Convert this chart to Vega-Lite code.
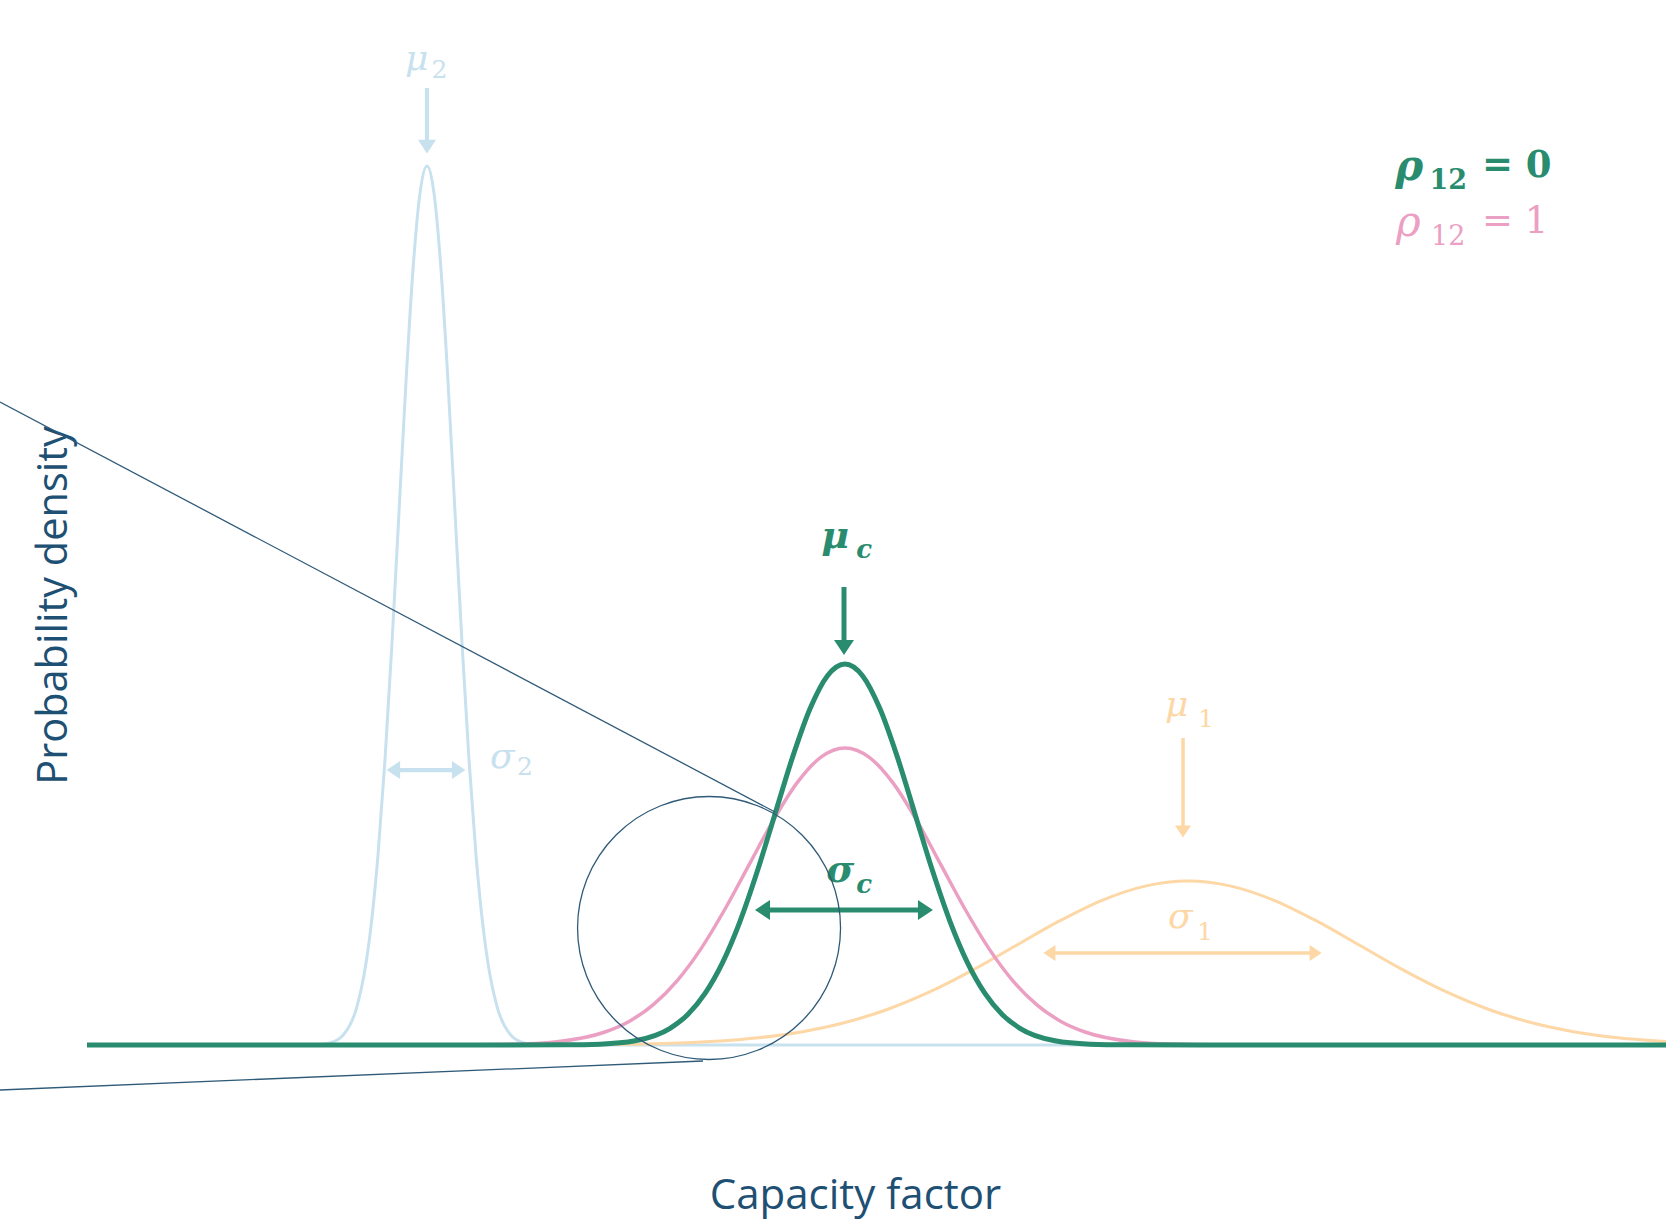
{
  "$schema": "https://vega.github.io/schema/vega-lite/v6.json",
  "width": 1666,
  "height": 1222,
  "autosize": {"type": "none"},
  "padding": 0,
  "background": "white",
  "config": {"view": {"stroke": null}},
  "datasets": {
    "curves": [
      {"series": "blue", "x": 18.0, "y": 0},
      {"series": "blue", "x": 18.91, "y": 0.03},
      {"series": "blue", "x": 19.75, "y": 0.19},
      {"series": "blue", "x": 20.59, "y": 0.98},
      {"series": "blue", "x": 21.43, "y": 3.86},
      {"series": "blue", "x": 21.85, "y": 7.0},
      {"series": "blue", "x": 22.27, "y": 11.89},
      {"series": "blue", "x": 22.69, "y": 19.01},
      {"series": "blue", "x": 23.11, "y": 28.54},
      {"series": "blue", "x": 23.53, "y": 40.24},
      {"series": "blue", "x": 23.95, "y": 53.31},
      {"series": "blue", "x": 24.37, "y": 66.35},
      {"series": "blue", "x": 24.79, "y": 77.57},
      {"series": "blue", "x": 25.21, "y": 85.19},
      {"series": "blue", "x": 25.63, "y": 87.9},
      {"series": "blue", "x": 26.05, "y": 85.19},
      {"series": "blue", "x": 26.47, "y": 77.57},
      {"series": "blue", "x": 26.89, "y": 66.35},
      {"series": "blue", "x": 27.31, "y": 53.31},
      {"series": "blue", "x": 27.73, "y": 40.24},
      {"series": "blue", "x": 28.15, "y": 28.54},
      {"series": "blue", "x": 28.57, "y": 19.01},
      {"series": "blue", "x": 28.99, "y": 11.89},
      {"series": "blue", "x": 29.41, "y": 7.0},
      {"series": "blue", "x": 29.83, "y": 3.86},
      {"series": "blue", "x": 30.67, "y": 0.98},
      {"series": "blue", "x": 31.51, "y": 0.19},
      {"series": "blue", "x": 32.35, "y": 0.03},
      {"series": "blue", "x": 33.5, "y": 0},
      {"series": "blue", "x": 100, "y": 0},

      {"series": "orange", "x": 27.0, "y": 0},
      {"series": "orange", "x": 30.03, "y": 0.0055},
      {"series": "orange", "x": 35.19, "y": 0.036},
      {"series": "orange", "x": 40.35, "y": 0.18},
      {"series": "orange", "x": 45.51, "y": 0.72},
      {"series": "orange", "x": 48.09, "y": 1.31},
      {"series": "orange", "x": 50.67, "y": 2.22},
      {"series": "orange", "x": 53.25, "y": 3.55},
      {"series": "orange", "x": 55.83, "y": 5.33},
      {"series": "orange", "x": 58.41, "y": 7.51},
      {"series": "orange", "x": 60.99, "y": 9.95},
      {"series": "orange", "x": 63.57, "y": 12.38},
      {"series": "orange", "x": 66.15, "y": 14.47},
      {"series": "orange", "x": 68.73, "y": 15.89},
      {"series": "orange", "x": 71.31, "y": 16.4},
      {"series": "orange", "x": 73.89, "y": 15.89},
      {"series": "orange", "x": 76.47, "y": 14.47},
      {"series": "orange", "x": 79.05, "y": 12.38},
      {"series": "orange", "x": 81.63, "y": 9.95},
      {"series": "orange", "x": 84.21, "y": 7.51},
      {"series": "orange", "x": 86.79, "y": 5.33},
      {"series": "orange", "x": 89.37, "y": 3.55},
      {"series": "orange", "x": 91.95, "y": 2.22},
      {"series": "orange", "x": 94.53, "y": 1.31},
      {"series": "orange", "x": 97.11, "y": 0.72},
      {"series": "orange", "x": 100, "y": 0.34},

      {"series": "pink", "x": 24.0, "y": 0},
      {"series": "pink", "x": 27.67, "y": 0.01},
      {"series": "pink", "x": 30.55, "y": 0.065},
      {"series": "pink", "x": 33.43, "y": 0.33},
      {"series": "pink", "x": 36.31, "y": 1.3},
      {"series": "pink", "x": 37.76, "y": 2.36},
      {"series": "pink", "x": 39.2, "y": 4.02},
      {"series": "pink", "x": 40.64, "y": 6.42},
      {"series": "pink", "x": 42.08, "y": 9.64},
      {"series": "pink", "x": 43.52, "y": 13.6},
      {"series": "pink", "x": 44.96, "y": 18.01},
      {"series": "pink", "x": 46.4, "y": 22.42},
      {"series": "pink", "x": 47.84, "y": 26.21},
      {"series": "pink", "x": 49.28, "y": 28.79},
      {"series": "pink", "x": 50.72, "y": 29.7},
      {"series": "pink", "x": 52.16, "y": 28.79},
      {"series": "pink", "x": 53.6, "y": 26.21},
      {"series": "pink", "x": 55.04, "y": 22.42},
      {"series": "pink", "x": 56.48, "y": 18.01},
      {"series": "pink", "x": 57.92, "y": 13.6},
      {"series": "pink", "x": 59.36, "y": 9.64},
      {"series": "pink", "x": 60.8, "y": 6.42},
      {"series": "pink", "x": 62.24, "y": 4.02},
      {"series": "pink", "x": 63.68, "y": 2.36},
      {"series": "pink", "x": 65.13, "y": 1.3},
      {"series": "pink", "x": 68.01, "y": 0.33},
      {"series": "pink", "x": 70.89, "y": 0.065},
      {"series": "pink", "x": 73.77, "y": 0.01},
      {"series": "pink", "x": 77.0, "y": 0},

      {"series": "green", "x": 5.22, "y": 0},
      {"series": "green", "x": 30.0, "y": 0},
      {"series": "green", "x": 33.92, "y": 0.013},
      {"series": "green", "x": 36.02, "y": 0.083},
      {"series": "green", "x": 38.12, "y": 0.42},
      {"series": "green", "x": 40.22, "y": 1.67},
      {"series": "green", "x": 41.27, "y": 3.03},
      {"series": "green", "x": 42.32, "y": 5.16},
      {"series": "green", "x": 43.37, "y": 8.24},
      {"series": "green", "x": 44.42, "y": 12.37},
      {"series": "green", "x": 45.47, "y": 17.44},
      {"series": "green", "x": 46.52, "y": 23.11},
      {"series": "green", "x": 47.57, "y": 28.76},
      {"series": "green", "x": 48.62, "y": 33.62},
      {"series": "green", "x": 49.67, "y": 36.93},
      {"series": "green", "x": 50.72, "y": 38.1},
      {"series": "green", "x": 51.77, "y": 36.93},
      {"series": "green", "x": 52.82, "y": 33.62},
      {"series": "green", "x": 53.87, "y": 28.76},
      {"series": "green", "x": 54.92, "y": 23.11},
      {"series": "green", "x": 55.97, "y": 17.44},
      {"series": "green", "x": 57.02, "y": 12.37},
      {"series": "green", "x": 58.07, "y": 8.24},
      {"series": "green", "x": 59.12, "y": 5.16},
      {"series": "green", "x": 60.17, "y": 3.03},
      {"series": "green", "x": 61.22, "y": 1.67},
      {"series": "green", "x": 63.32, "y": 0.42},
      {"series": "green", "x": 65.42, "y": 0.083},
      {"series": "green", "x": 67.52, "y": 0.013},
      {"series": "green", "x": 72.0, "y": 0},
      {"series": "green", "x": 100, "y": 0}
    ],
    "shafts": [
      {"series": "blue", "x": 25.63, "y": 95.7, "x2": 25.63, "y2": 90.3},
      {"series": "green", "x": 50.66, "y": 45.8, "x2": 50.66, "y2": 40.5},
      {"series": "orange", "x": 71.01, "y": 30.7, "x2": 71.01, "y2": 21.9},
      {"series": "blue", "x": 23.61, "y": 27.5, "x2": 27.53, "y2": 27.5},
      {"series": "green", "x": 45.77, "y": 13.5, "x2": 55.55, "y2": 13.5},
      {"series": "orange", "x": 62.99, "y": 9.2, "x2": 78.97, "y2": 9.2}
    ],
    "heads": [
      {"series": "blue", "dir": "down", "x": 25.63, "y": 89.84},
      {"series": "green", "dir": "down", "x": 50.66, "y": 39.75},
      {"series": "orange", "dir": "down", "x": 71.01, "y": 21.34},
      {"series": "blue", "dir": "left", "x": 23.61, "y": 27.5},
      {"series": "blue", "dir": "right", "x": 27.53, "y": 27.5},
      {"series": "green", "dir": "left", "x": 45.77, "y": 13.5},
      {"series": "green", "dir": "right", "x": 55.55, "y": 13.5},
      {"series": "orange", "dir": "left", "x": 62.99, "y": 9.2},
      {"series": "orange", "dir": "right", "x": 78.97, "y": 9.2}
    ],
    "labels": [
      {"series": "blue", "role": "greek", "text": "μ", "x": 24.31, "y": 97.5},
      {"series": "blue", "role": "sub", "text": "2", "x": 25.9, "y": 96.7},
      {"series": "green", "role": "greek", "text": "μ", "x": 49.3, "y": 49.7},
      {"series": "green", "role": "subi", "text": "c", "x": 51.4, "y": 48.7},
      {"series": "orange", "role": "greek", "text": "μ", "x": 69.93, "y": 32.9},
      {"series": "orange", "role": "sub", "text": "1", "x": 71.91, "y": 31.8},
      {"series": "blue", "role": "greek", "text": "σ", "x": 29.41, "y": 27.7},
      {"series": "blue", "role": "sub", "text": "2", "x": 31.03, "y": 27.0},
      {"series": "green", "role": "greek", "text": "σ", "x": 49.6, "y": 16.3},
      {"series": "green", "role": "subi", "text": "c", "x": 51.4, "y": 15.2},
      {"series": "orange", "role": "greek", "text": "σ", "x": 70.11, "y": 11.7},
      {"series": "orange", "role": "sub", "text": "1", "x": 71.85, "y": 10.5},
      {"series": "green", "role": "rho", "text": "ρ", "x": 83.75, "y": 86.5},
      {"series": "green", "role": "rsub", "text": "12", "x": 85.8, "y": 85.6},
      {"series": "green", "role": "rest", "text": "= 0", "x": 88.95, "y": 86.8},
      {"series": "pink", "role": "rho", "text": "ρ", "x": 83.8, "y": 80.9},
      {"series": "pink", "role": "rsub", "text": "12", "x": 85.9, "y": 80.0},
      {"series": "pink", "role": "rest", "text": "= 1", "x": 88.95, "y": 81.2}
    ],
    "callout": [
      {"x": 0, "y": 64.3, "x2": 46.52, "y2": 23.3},
      {"x": 0, "y": -4.5, "x2": 42.2, "y2": -1.6}
    ],
    "circle": [
      {"x": 42.56, "y": 11.7}
    ]
  },
  "encoding": {
    "x": {
      "field": "x", "type": "quantitative",
      "scale": {"domain": [0, 100], "nice": false, "zero": false},
      "axis": {
        "title": "Capacity factor", "domain": false, "ticks": false, "labels": false, "grid": false,
        "titleX": 855, "titleY": -14, "titleAlign": "center", "titleBaseline": "alphabetic",
        "titleFont": "Open Sans", "titleFontSize": 42, "titleFontWeight": "normal", "titleColor": "#1e5073"
      }
    },
    "y": {
      "field": "y", "type": "quantitative",
      "scale": {"domain": [-17.7, 104.5], "nice": false, "zero": false},
      "axis": {
        "title": "Probability density", "domain": false, "ticks": false, "labels": false, "grid": false,
        "titleX": 66, "titleY": 605, "titleAngle": 270, "titleAlign": "center", "titleBaseline": "alphabetic",
        "titleFont": "Open Sans", "titleFontSize": 41.5, "titleFontWeight": "normal", "titleColor": "#1e5073"
      }
    }
  },
  "layer": [
    {
      "data": {"name": "curves"},
      "transform": [{"filter": "datum.series == 'blue'"}],
      "mark": {"type": "line", "interpolate": "monotone", "strokeWidth": 3},
      "encoding": {"color": {"field": "series", "type": "nominal", "scale": {"domain": ["green", "pink", "blue", "orange"], "range": ["#2a8c6e", "#eba0c3", "#c8e1ee", "#fdd7a5"]}, "legend": null}}
    },
    {
      "data": {"name": "curves"},
      "transform": [{"filter": "datum.series == 'orange'"}],
      "mark": {"type": "line", "interpolate": "monotone", "strokeWidth": 3},
      "encoding": {"color": {"field": "series", "type": "nominal", "scale": {"domain": ["green", "pink", "blue", "orange"], "range": ["#2a8c6e", "#eba0c3", "#c8e1ee", "#fdd7a5"]}, "legend": null}}
    },
    {
      "data": {"name": "curves"},
      "transform": [{"filter": "datum.series == 'pink'"}],
      "mark": {"type": "line", "interpolate": "monotone", "strokeWidth": 3.5},
      "encoding": {"color": {"field": "series", "type": "nominal", "scale": {"domain": ["green", "pink", "blue", "orange"], "range": ["#2a8c6e", "#eba0c3", "#c8e1ee", "#fdd7a5"]}, "legend": null}}
    },
    {
      "data": {"name": "curves"},
      "transform": [{"filter": "datum.series == 'green'"}],
      "mark": {"type": "line", "interpolate": "monotone", "strokeWidth": 5},
      "encoding": {"color": {"field": "series", "type": "nominal", "scale": {"domain": ["green", "pink", "blue", "orange"], "range": ["#2a8c6e", "#eba0c3", "#c8e1ee", "#fdd7a5"]}, "legend": null}}
    },
    {
      "data": {"name": "shafts"},
      "mark": {"type": "rule"},
      "encoding": {
        "x2": {"field": "x2"},
        "y2": {"field": "y2"},
        "color": {"field": "series", "type": "nominal", "scale": {"domain": ["green", "pink", "blue", "orange"], "range": ["#2a8c6e", "#eba0c3", "#c8e1ee", "#fdd7a5"]}, "legend": null},
        "strokeWidth": {"field": "series", "type": "nominal", "scale": {"domain": ["green", "blue", "orange"], "range": [5, 3.5, 3.5]}, "legend": null}
      }
    },
    {
      "data": {"name": "heads"},
      "transform": [{"filter": "datum.dir == 'down'"}],
      "mark": {"type": "point", "shape": "M-1,-0.75L1,-0.75L0,0.75Z", "filled": true, "opacity": 1, "strokeWidth": 0},
      "encoding": {
        "color": {"field": "series", "type": "nominal", "scale": {"domain": ["green", "pink", "blue", "orange"], "range": ["#2a8c6e", "#eba0c3", "#c8e1ee", "#fdd7a5"]}, "legend": null},
        "size": {"field": "series", "type": "nominal", "scale": {"domain": ["green", "blue", "orange"], "range": [400, 256, 289]}, "legend": null}
      }
    },
    {
      "data": {"name": "heads"},
      "transform": [{"filter": "datum.dir == 'left'"}],
      "mark": {"type": "point", "shape": "M0.75,-1L0.75,1L-0.75,0Z", "filled": true, "opacity": 1, "strokeWidth": 0},
      "encoding": {
        "color": {"field": "series", "type": "nominal", "scale": {"domain": ["green", "pink", "blue", "orange"], "range": ["#2a8c6e", "#eba0c3", "#c8e1ee", "#fdd7a5"]}, "legend": null},
        "size": {"field": "series", "type": "nominal", "scale": {"domain": ["green", "blue", "orange"], "range": [400, 256, 289]}, "legend": null}
      }
    },
    {
      "data": {"name": "heads"},
      "transform": [{"filter": "datum.dir == 'right'"}],
      "mark": {"type": "point", "shape": "M-0.75,-1L-0.75,1L0.75,0Z", "filled": true, "opacity": 1, "strokeWidth": 0},
      "encoding": {
        "color": {"field": "series", "type": "nominal", "scale": {"domain": ["green", "pink", "blue", "orange"], "range": ["#2a8c6e", "#eba0c3", "#c8e1ee", "#fdd7a5"]}, "legend": null},
        "size": {"field": "series", "type": "nominal", "scale": {"domain": ["green", "blue", "orange"], "range": [400, 256, 289]}, "legend": null}
      }
    },
    {
      "data": {"name": "labels"},
      "transform": [{"filter": "datum.role == 'greek' && datum.series == 'green'"}],
      "mark": {"type": "text", "align": "left", "baseline": "alphabetic", "font": "DejaVu Serif", "fontStyle": "italic", "fontWeight": "bold", "fontSize": 38},
      "encoding": {
        "text": {"field": "text"},
        "color": {"field": "series", "type": "nominal", "scale": {"domain": ["green", "pink", "blue", "orange"], "range": ["#2a8c6e", "#eba0c3", "#c8e1ee", "#fdd7a5"]}, "legend": null}
      }
    },
    {
      "data": {"name": "labels"},
      "transform": [{"filter": "datum.role == 'greek' && datum.series != 'green'"}],
      "mark": {"type": "text", "align": "left", "baseline": "alphabetic", "font": "DejaVu Serif", "fontStyle": "italic", "fontWeight": "normal", "fontSize": 36},
      "encoding": {
        "text": {"field": "text"},
        "color": {"field": "series", "type": "nominal", "scale": {"domain": ["green", "pink", "blue", "orange"], "range": ["#2a8c6e", "#eba0c3", "#c8e1ee", "#fdd7a5"]}, "legend": null}
      }
    },
    {
      "data": {"name": "labels"},
      "transform": [{"filter": "datum.role == 'subi'"}],
      "mark": {"type": "text", "align": "left", "baseline": "alphabetic", "font": "DejaVu Serif", "fontStyle": "italic", "fontWeight": "bold", "fontSize": 26},
      "encoding": {
        "text": {"field": "text"},
        "color": {"field": "series", "type": "nominal", "scale": {"domain": ["green", "pink", "blue", "orange"], "range": ["#2a8c6e", "#eba0c3", "#c8e1ee", "#fdd7a5"]}, "legend": null}
      }
    },
    {
      "data": {"name": "labels"},
      "transform": [{"filter": "datum.role == 'sub'"}],
      "mark": {"type": "text", "align": "left", "baseline": "alphabetic", "font": "DejaVu Serif", "fontWeight": "normal", "fontSize": 25},
      "encoding": {
        "text": {"field": "text"},
        "color": {"field": "series", "type": "nominal", "scale": {"domain": ["green", "pink", "blue", "orange"], "range": ["#2a8c6e", "#eba0c3", "#c8e1ee", "#fdd7a5"]}, "legend": null}
      }
    },
    {
      "data": {"name": "labels"},
      "transform": [{"filter": "datum.role == 'rho' && datum.series == 'green'"}],
      "mark": {"type": "text", "align": "left", "baseline": "alphabetic", "font": "DejaVu Serif", "fontStyle": "italic", "fontWeight": "bold", "fontSize": 42},
      "encoding": {
        "text": {"field": "text"},
        "color": {"field": "series", "type": "nominal", "scale": {"domain": ["green", "pink", "blue", "orange"], "range": ["#2a8c6e", "#eba0c3", "#c8e1ee", "#fdd7a5"]}, "legend": null}
      }
    },
    {
      "data": {"name": "labels"},
      "transform": [{"filter": "datum.role == 'rho' && datum.series != 'green'"}],
      "mark": {"type": "text", "align": "left", "baseline": "alphabetic", "font": "DejaVu Serif", "fontStyle": "italic", "fontWeight": "normal", "fontSize": 42},
      "encoding": {
        "text": {"field": "text"},
        "color": {"field": "series", "type": "nominal", "scale": {"domain": ["green", "pink", "blue", "orange"], "range": ["#2a8c6e", "#eba0c3", "#c8e1ee", "#fdd7a5"]}, "legend": null}
      }
    },
    {
      "data": {"name": "labels"},
      "transform": [{"filter": "datum.role == 'rsub' && datum.series == 'green'"}],
      "mark": {"type": "text", "align": "left", "baseline": "alphabetic", "font": "DejaVu Serif", "fontWeight": "bold", "fontSize": 27},
      "encoding": {
        "text": {"field": "text"},
        "color": {"field": "series", "type": "nominal", "scale": {"domain": ["green", "pink", "blue", "orange"], "range": ["#2a8c6e", "#eba0c3", "#c8e1ee", "#fdd7a5"]}, "legend": null}
      }
    },
    {
      "data": {"name": "labels"},
      "transform": [{"filter": "datum.role == 'rsub' && datum.series != 'green'"}],
      "mark": {"type": "text", "align": "left", "baseline": "alphabetic", "font": "DejaVu Serif", "fontWeight": "normal", "fontSize": 27},
      "encoding": {
        "text": {"field": "text"},
        "color": {"field": "series", "type": "nominal", "scale": {"domain": ["green", "pink", "blue", "orange"], "range": ["#2a8c6e", "#eba0c3", "#c8e1ee", "#fdd7a5"]}, "legend": null}
      }
    },
    {
      "data": {"name": "labels"},
      "transform": [{"filter": "datum.role == 'rest' && datum.series == 'green'"}],
      "mark": {"type": "text", "align": "left", "baseline": "alphabetic", "font": "DejaVu Serif", "fontWeight": "bold", "fontSize": 37},
      "encoding": {
        "text": {"field": "text"},
        "color": {"field": "series", "type": "nominal", "scale": {"domain": ["green", "pink", "blue", "orange"], "range": ["#2a8c6e", "#eba0c3", "#c8e1ee", "#fdd7a5"]}, "legend": null}
      }
    },
    {
      "data": {"name": "labels"},
      "transform": [{"filter": "datum.role == 'rest' && datum.series != 'green'"}],
      "mark": {"type": "text", "align": "left", "baseline": "alphabetic", "font": "DejaVu Serif", "fontWeight": "normal", "fontSize": 37},
      "encoding": {
        "text": {"field": "text"},
        "color": {"field": "series", "type": "nominal", "scale": {"domain": ["green", "pink", "blue", "orange"], "range": ["#2a8c6e", "#eba0c3", "#c8e1ee", "#fdd7a5"]}, "legend": null}
      }
    },
    {
      "data": {"name": "callout"},
      "mark": {"type": "rule", "color": "#2f5a78", "strokeWidth": 1.3},
      "encoding": {
        "x2": {"field": "x2"},
        "y2": {"field": "y2"}
      }
    },
    {
      "data": {"name": "circle"},
      "mark": {"type": "point", "shape": "circle", "size": 69169, "filled": false, "color": "#2f5a78", "strokeWidth": 1.3, "opacity": 1}
    }
  ]
}
